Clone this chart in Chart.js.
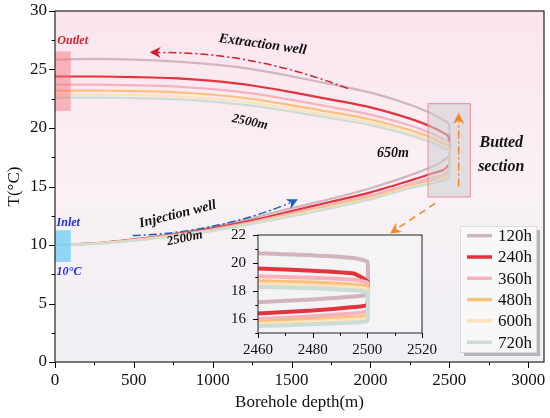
<!DOCTYPE html>
<html>
<head>
<meta charset="utf-8">
<script src="https://cdn.jsdelivr.net/npm/chart.js@4.4.1/dist/chart.umd.min.js"></script>
<style>
  body { margin: 0; background: #fff; }
  #wrap { position: relative; width: 550px; height: 418px; }
  #main { position: absolute; left: 0; top: 0; }
  #inset { position: absolute; left: 212px; top: 226px; }
</style>
</head>
<body>
<div id="wrap">
  <canvas id="main" width="550" height="418"></canvas>
  <canvas id="inset" width="245" height="140"></canvas>
</div>
<script>
const serif = '"Liberation Serif", "Times New Roman", serif'

// borehole depth (m) of the sample points, same for both branches
const depth = [0, 250, 500, 750, 1000, 1250, 1500, 1750, 2000, 2250, 2400, 2460, 2480, 2495, 2500]

const labels = ['120h', '240h', '360h', '480h', '600h', '720h']
const colors = ['#d2b4bf', '#e3343c', '#f7b3bd', '#fdc07a', '#fde3bd', '#cbddd4']

// injection well (going down)
const inj120 = [10, 10.15, 10.5, 10.95, 11.55, 12.3, 13.15, 13.95, 14.85, 15.95, 16.75, 17.2, 17.4, 17.6, 17.75]
const inj240 = [10, 10.14, 10.46, 10.88, 11.42, 12.1, 12.9, 13.7, 14.5, 15.5, 16.15, 16.4, 16.6, 16.85, 17.0]
const inj360 = [10, 10.13, 10.44, 10.84, 11.34, 11.98, 12.72, 13.47, 14.24, 15.21, 15.79, 16.0, 16.2, 16.4, 16.55]
const inj480 = [10, 10.12, 10.42, 10.8, 11.27, 11.88, 12.6, 13.33, 14.07, 15.02, 15.56, 15.8, 15.95, 16.1, 16.25]
const inj600 = [10, 10.11, 10.4, 10.77, 11.23, 11.83, 12.52, 13.23, 13.97, 14.92, 15.42, 15.65, 15.8, 15.95, 16.05]
const inj720 = [10, 10.1, 10.38, 10.74, 11.2, 11.8, 12.45, 13.15, 13.9, 14.85, 15.3, 15.5, 15.62, 15.75, 15.85]

// extraction well (coming up), listed by the same depths
const ext120 = [25.85, 25.9, 25.85, 25.7, 25.44, 25.03, 24.41, 23.74, 23.02, 21.99, 21.16, 20.7, 20.55, 20.35, 20.1]
const ext240 = [24.4, 24.4, 24.35, 24.26, 24.02, 23.63, 23.06, 22.43, 21.76, 20.8, 20.03, 19.6, 19.45, 19.25, 18.7]
const ext360 = [23.7, 23.7, 23.65, 23.56, 23.33, 22.96, 22.4, 21.79, 21.14, 20.21, 19.47, 19.05, 18.95, 18.8, 18.6]
const ext480 = [23.2, 23.2, 23.16, 23.07, 22.84, 22.48, 21.94, 21.36, 20.73, 19.83, 19.11, 18.7, 18.6, 18.45, 18.3]
const ext600 = [22.85, 22.85, 22.81, 22.72, 22.5, 22.15, 21.63, 21.07, 20.46, 19.59, 18.89, 18.5, 18.4, 18.25, 18.1]
const ext720 = [22.6, 22.6, 22.56, 22.47, 22.26, 21.91, 21.4, 20.84, 20.24, 19.38, 18.69, 18.3, 18.2, 18.05, 17.9]

const injSeries = [inj120, inj240, inj360, inj480, inj600, inj720]
const extSeries = [ext120, ext240, ext360, ext480, ext600, ext720]

// tick labels
const xTicks = [0, 500, 1000, 1500, 2000, 2500, 3000]
const yTicks = [0, 5, 10, 15, 20, 25, 30]
const insetXTicks = [2460, 2480, 2500, 2520]
const insetYTicks = [16, 18, 20, 22]

function loop(inj, ext) {
    const down = depth.map((d, i) => ({ x: d, y: inj[i] }))
    const up = depth.map((d, i) => ({ x: d, y: ext[i] })).reverse()
    return down.concat(up)
}

function makeDatasets(width, tension) {
    return labels.map((l, i) => ({
        label: l,
        data: loop(injSeries[i], extSeries[i]),
        borderColor: colors[i],
        borderWidth: width,
        showLine: true,
        pointRadius: 0,
        tension: tension,
        order: labels.length - i
    }))
}

function near(v, step) {
    return Math.abs(v / step - Math.round(v / step)) < 1e-6
}

function fixAxis(size, list) {
    return {
        afterFit: s => {
            if (s.isHorizontal()) s.height = size
            else s.width = size
            s.paddingTop = 0
            s.paddingBottom = 0
            s.paddingLeft = 0
            s.paddingRight = 0
        },
        afterBuildTicks: s => {
            s.ticks = list.map(v => ({ value: v }))
        }
    }
}

// background, outward major/minor ticks and the frame
const frame = {
    id: 'frame',
    beforeDatasetsDraw(chart, args, o) {
        const { ctx, chartArea: a } = chart
        ctx.save()
        if (o.gradient) {
            const g = ctx.createLinearGradient(0, a.top, 0, a.bottom)
            g.addColorStop(0, '#fce4ee')
            g.addColorStop(0.5, '#f9f1f5')
            g.addColorStop(1, '#efeff4')
            ctx.fillStyle = g
        } else {
            ctx.fillStyle = o.fill
        }
        ctx.fillRect(a.left, a.top, a.width, a.height)
        ctx.restore()
    },
    afterDraw(chart, args, o) {
        const { ctx, chartArea: a } = chart
        const xs = chart.scales.x, ys = chart.scales.y
        ctx.save()
        ctx.strokeStyle = '#000'
        ctx.lineWidth = 1
        ctx.beginPath()
        for (let v = xs.min; v <= xs.max + 1e-9; v += o.xMinor) {
            const px = Math.round(xs.getPixelForValue(v)) + 0.5
            const len = near(v, o.xMajor) ? o.len : o.len * 0.55
            ctx.moveTo(px, a.bottom)
            ctx.lineTo(px, a.bottom + len)
        }
        for (let v = ys.min; v <= ys.max + 1e-9; v += o.yMinor) {
            const py = Math.round(ys.getPixelForValue(v)) + 0.5
            const len = near(v, o.yMajor) ? o.len : o.len * 0.55
            ctx.moveTo(a.left, py)
            ctx.lineTo(a.left - len, py)
        }
        ctx.stroke()
        ctx.lineWidth = o.border
        ctx.strokeStyle = '#222'
        ctx.strokeRect(a.left, a.top, a.width, a.height)
        ctx.restore()
    }
}

function arrowHead(ctx, x, y, ang, size, color) {
    ctx.save()
    ctx.translate(x, y)
    ctx.rotate(ang)
    ctx.fillStyle = color
    ctx.beginPath()
    ctx.moveTo(0, 0)
    ctx.lineTo(-size, -size * 0.5)
    ctx.lineTo(-size * 0.7, 0)
    ctx.lineTo(-size, size * 0.5)
    ctx.closePath()
    ctx.fill()
    ctx.restore()
}

// notes, boxes, arrows and the legend of the main chart
const notes = {
    id: 'notes',
    afterDatasetsDraw(chart) {
        const { ctx } = chart
        const X = v => chart.scales.x.getPixelForValue(v)
        const Y = v => chart.scales.y.getPixelForValue(v)
        ctx.save()

        // outlet / inlet boxes
        ctx.fillStyle = 'rgba(243, 110, 120, 0.45)'
        ctx.fillRect(X(0), Y(26.55), X(100) - X(0), Y(21.45) - Y(26.55))
        ctx.fillStyle = 'rgba(110, 205, 245, 0.75)'
        ctx.fillRect(X(0), Y(11.26), X(100) - X(0), Y(8.55) - Y(11.26))

        // butted section box
        ctx.fillStyle = 'rgba(205, 205, 210, 0.55)'
        ctx.fillRect(X(2365), Y(22.08), X(2633) - X(2365), Y(14.1) - Y(22.08))
        ctx.strokeStyle = 'rgba(240, 120, 130, 0.8)'
        ctx.lineWidth = 1
        ctx.strokeRect(X(2365), Y(22.08), X(2633) - X(2365), Y(14.1) - Y(22.08))

        ctx.lineWidth = 1.5
        ctx.setLineDash([8, 3, 2, 3])

        // extraction arrow
        ctx.strokeStyle = '#d21f2b'
        ctx.beginPath()
        ctx.moveTo(X(1857), Y(23.38))
        ctx.quadraticCurveTo(X(1230), Y(26.59), X(640), Y(26.45))
        ctx.stroke()
        arrowHead(ctx, X(600), Y(26.47), Math.PI + 0.02, 11, '#d21f2b')

        // injection arrow
        ctx.strokeStyle = '#1a5fc0'
        ctx.beginPath()
        ctx.moveTo(X(492), Y(10.82))
        ctx.quadraticCurveTo(X(1016), Y(11.0), X(1490), Y(13.6))
        ctx.stroke()
        arrowHead(ctx, X(1540), Y(13.91), -0.46, 11, '#1a5fc0')

        // butted section arrow
        ctx.strokeStyle = '#f58a1f'
        ctx.beginPath()
        ctx.moveTo(X(2559), Y(15.0))
        ctx.lineTo(X(2559), Y(20.6))
        ctx.stroke()
        arrowHead(ctx, X(2559), Y(21.3), -Math.PI / 2, 11, '#f58a1f')

        // dashed arrow to the inset
        ctx.setLineDash([7, 5])
        ctx.beginPath()
        ctx.moveTo(X(2410), Y(13.56))
        ctx.lineTo(X(2170), Y(11.4))
        ctx.stroke()
        ctx.setLineDash([])
        arrowHead(ctx, X(2124), Y(10.99), Math.atan2(Y(10.99) - Y(13.56), X(2124) - X(2410)), 11, '#f58a1f')

        // texts
        const txt = (s, x, y, size, color, rot, align) => {
            ctx.save()
            ctx.translate(X(x), Y(y))
            ctx.rotate(rot * Math.PI / 180)
            ctx.font = 'italic bold ' + size + 'px ' + serif
            ctx.fillStyle = color
            ctx.textAlign = align || 'center'
            ctx.textBaseline = 'middle'
            ctx.fillText(s, 0, 0)
            ctx.restore()
        }
        txt('Outlet', 15, 27.45, 12, '#d4202c', 0, 'left')
        txt('Inlet', 10, 11.9, 12, '#1f2fe0', 0, 'left')
        txt('10°C', 10, 7.7, 12, '#1f2fe0', 0, 'left')
        txt('Extraction well', 1317, 27.14, 14, '#111', 8)
        txt('2500m', 1235, 20.5, 13, '#111', 12)
        txt('650m', 2143, 17.84, 14, '#111', 0)
        txt('Butted', 2829, 18.69, 16, '#111', 0)
        txt('section', 2829, 16.72, 16, '#111', 0)
        txt('Injection well', 778, 12.62, 14, '#111', -14)
        txt('2500m', 822, 10.57, 13, '#111', -12)

        // legend
        const lx = 460, ly = 226, lw = 76, lh = 126
        ctx.fillStyle = '#b3b6bb'
        ctx.fillRect(lx + 4, ly + 4, lw, lh)
        ctx.fillStyle = '#f8f8f9'
        ctx.fillRect(lx, ly, lw, lh)
        ctx.strokeStyle = '#dcdcdc'
        ctx.lineWidth = 1
        ctx.strokeRect(lx + 0.5, ly + 0.5, lw, lh)
        chart.data.datasets.forEach((ds, i) => {
            const ry = 235.7 + i * 21.3
            ctx.strokeStyle = ds.borderColor
            ctx.lineWidth = 3.5
            ctx.beginPath()
            ctx.moveTo(467, ry)
            ctx.lineTo(492, ry)
            ctx.stroke()
            ctx.fillStyle = '#111'
            ctx.font = '17px ' + serif
            ctx.textAlign = 'left'
            ctx.textBaseline = 'middle'
            ctx.fillText(ds.label, 498, ry + 1)
        })
        ctx.restore()
    }
}

const tickFont = { family: serif, size: 17 }

new Chart(document.getElementById('main'), {
    type: 'scatter',
    data: { datasets: makeDatasets(2.2, 0.3) },
    plugins: [frame, notes],
    options: {
        responsive: false,
        animation: false,
        layout: { padding: { top: 11, right: 6, left: 0, bottom: 0 } },
        plugins: {
            legend: { display: false },
            tooltip: { enabled: false },
            frame: { gradient: true, xMinor: 250, xMajor: 500, yMinor: 2.5, yMajor: 5, len: 6, border: 1.2 }
        },
        scales: {
            x: {
                type: 'linear',
                min: 0,
                max: 3100,
                ...fixAxis(56, xTicks),
                grid: { display: false, drawTicks: false },
                border: { display: false },
                ticks: { autoSkip: false, maxRotation: 0, padding: 8, color: '#111', font: tickFont, callback: v => String(v) },
                title: { display: true, text: 'Borehole depth(m)', color: '#111', font: tickFont, padding: { top: 0, bottom: 5 } }
            },
            y: {
                min: 0,
                max: 30,
                ...fixAxis(55, yTicks),
                grid: { display: false, drawTicks: false },
                border: { display: false },
                ticks: { autoSkip: false, padding: 8, color: '#111', font: tickFont, callback: v => String(v) },
                title: { display: true, text: 'T(°C)', color: '#111', font: tickFont, padding: { top: 4, bottom: 0 } }
            }
        }
    }
})

const insetFont = { family: serif, size: 15 }

new Chart(document.getElementById('inset'), {
    type: 'scatter',
    data: { datasets: makeDatasets(4, 0.1) },
    plugins: [frame],
    options: {
        responsive: false,
        animation: false,
        layout: { padding: { top: 9, right: 35, left: 0, bottom: 0 } },
        plugins: {
            legend: { display: false },
            tooltip: { enabled: false },
            frame: { gradient: false, fill: '#f4f4f7', xMinor: 10, xMajor: 20, yMinor: 1, yMajor: 2, len: 5, border: 1 }
        },
        scales: {
            x: {
                type: 'linear',
                min: 2460,
                max: 2520,
                ...fixAxis(33, insetXTicks),
                grid: { display: false, drawTicks: false },
                border: { display: false },
                ticks: { autoSkip: false, maxRotation: 0, padding: 8, color: '#111', font: insetFont, callback: v => String(v) }
            },
            y: {
                min: 15,
                max: 22,
                ...fixAxis(46, insetYTicks),
                grid: { display: false, drawTicks: false },
                border: { display: false },
                ticks: { autoSkip: false, padding: 12, color: '#111', font: insetFont, callback: v => String(v) }
            }
        }
    }
})
</script>
</body>
</html>
